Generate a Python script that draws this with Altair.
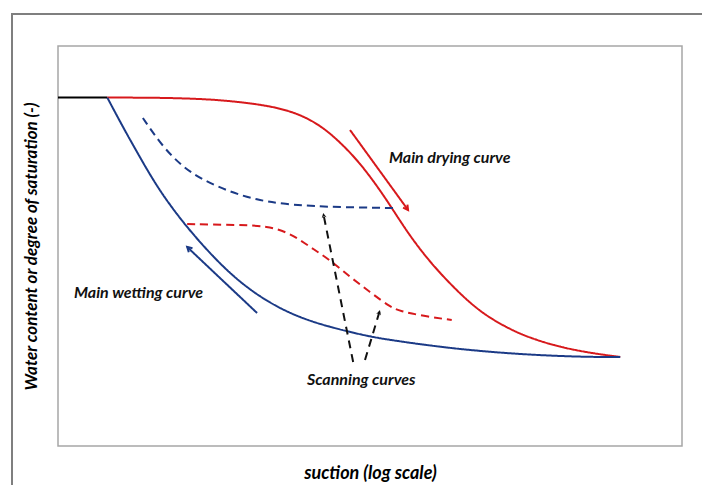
import math
import altair as alt
import pandas as pd

# x: suction on a log axis (arbitrary units 0-10), y: saturation (0-1)
sat_x = [0.0, 0.79]
sat_y = [0.871, 0.871]

dry_x = [0.79, 1.59, 2.39, 2.92, 3.40, 3.83, 4.20, 4.52, 4.84, 5.16, 5.37, 5.64,
         5.96, 6.33, 6.76, 7.20, 7.56, 8.09, 8.64, 9.01]
dry_y = [0.871, 0.871, 0.8675, 0.86, 0.85, 0.8325, 0.8025, 0.76, 0.7075, 0.64, 0.59,
         0.525, 0.46, 0.3975, 0.335, 0.295, 0.27, 0.245, 0.23, 0.2225]

wet_x = [0.79, 1.04, 1.31, 1.59, 1.91, 2.28, 2.80, 3.35, 3.88, 4.41, 4.95, 5.32,
         6.23, 7.29, 8.37, 9.01]
wet_y = [0.871, 0.7975, 0.7225, 0.6475, 0.5775, 0.5075, 0.4225, 0.36, 0.32, 0.295,
         0.275, 0.265, 0.245, 0.23, 0.2225, 0.2225]

scan_wet_x = [1.36, 1.68, 2.00, 2.32, 2.76, 3.19, 3.61, 4.25, 5.37]
scan_wet_y = [0.82, 0.7475, 0.6975, 0.665, 0.635, 0.615, 0.605, 0.5975, 0.595]

scan_dry_x = [2.07, 2.92, 3.35, 3.72, 4.04, 4.36, 4.68, 5.00, 5.32, 5.48, 5.85, 6.31]
scan_dry_y = [0.555, 0.5525, 0.55, 0.5325, 0.4975, 0.465, 0.4225, 0.385, 0.3475,
              0.3375, 0.325, 0.315]

curve_names = ["saturated", "drying", "wetting", "scan_wet", "scan_dry"]
curve_colors = ["#000000", "#D7191C", "#1B3A86", "#1B3A86", "#D7191C"]
curve_dash = [[1, 0], [1, 0], [1, 0], [8, 5], [8, 5]]

# arrows: start -> end (head at end)
arrow_names = ["dry_arrow", "wet_arrow", "scan_a", "scan_b"]
arrow_x0 = [4.68, 3.19, 4.73, 4.92]
arrow_y0 = [0.79, 0.3325, 0.21, 0.215]
arrow_x1 = [5.61, 2.07, 4.25, 5.16]
arrow_y1 = [0.59, 0.4975, 0.5825, 0.34]
arrow_colors = ["#D7191C", "#1B3A86", "#111111", "#111111"]
arrow_dash = [[1, 0], [1, 0], [8, 6], [8, 6]]

label_text = ["Main drying curve", "Main wetting curve", "Scanning curves"]
label_x = [5.305, 0.256, 3.99]
label_y = [0.72, 0.3825, 0.165]

W, H = 624, 400
PAD = {"left": 50, "top": 38, "right": 20, "bottom": 39}
XDOM, YDOM = [0, 10], [0, 1]

all_names = curve_names + arrow_names
color_scale = alt.Scale(domain=all_names, range=curve_colors + arrow_colors)
dash_scale = alt.Scale(domain=all_names, range=curve_dash + arrow_dash)

rows = []
for name, xs, ys in zip(curve_names,
                        [sat_x, dry_x, wet_x, scan_wet_x, scan_dry_x],
                        [sat_y, dry_y, wet_y, scan_wet_y, scan_dry_y]):
    for i, (a, b) in enumerate(zip(xs, ys)):
        rows.append({"x": a, "y": b, "k": name, "o": i})
curves = pd.DataFrame(rows)

arows, hrows = [], []
for n, a0, b0, a1, b1 in zip(arrow_names, arrow_x0, arrow_y0, arrow_x1, arrow_y1):
    arows.append({"x": a0, "y": b0, "k": n, "o": 0})
    arows.append({"x": a1, "y": b1, "k": n, "o": 1})
    dx = (a1 - a0) * W / (XDOM[1] - XDOM[0])
    dy = -(b1 - b0) * H / (YDOM[1] - YDOM[0])
    ang = math.degrees(math.atan2(dx, -dy)) % 360
    hrows.append({"x": a1, "y": b1, "k": n, "angle": ang})
arrows = pd.DataFrame(arows)
heads = pd.DataFrame(hrows)
labels = pd.DataFrame({"x": label_x, "y": label_y, "t": label_text})

FONT = "Lato"
xenc = alt.X("x:Q", scale=alt.Scale(domain=XDOM, nice=False, zero=False),
             axis=alt.Axis(title="suction (log scale)", labels=False, ticks=False,
                           domain=False, grid=False, titleFont=FONT, titleFontSize=18,
                           titleFontStyle="italic", titleFontWeight="bold",
                           titleColor="#000000", titlePadding=18))
yenc = alt.Y("y:Q", scale=alt.Scale(domain=YDOM, nice=False, zero=False),
             axis=alt.Axis(title="Water content or degree of saturation (-)", labels=False,
                           ticks=False, domain=False, grid=False, titleFont=FONT,
                           titleFontSize=17, titleFontStyle="italic",
                           titleFontWeight="bold", titleColor="#000000", titlePadding=18))

col = alt.Color("k:N", scale=color_scale, legend=None)
dash = alt.StrokeDash("k:N", scale=dash_scale, legend=None)

curve_layer = alt.Chart(curves).mark_line(interpolate="basis", strokeWidth=2).encode(
    x=xenc, y=yenc, color=col, strokeDash=dash, order="o:Q",
)

arrow_layer = alt.Chart(arrows).mark_line(strokeWidth=2).encode(
    x="x:Q", y="y:Q", color=col, strokeDash=dash, order="o:Q",
)

open_heads = alt.Chart(heads).transform_filter(
    alt.FieldOneOfPredicate(field="k", oneOf=["dry_arrow", "wet_arrow"])
).mark_point(shape="M-0.9,1.6L0,0L0.9,1.6", filled=False, size=36, strokeWidth=2, opacity=1).encode(
    x="x:Q", y="y:Q", angle=alt.Angle("angle:Q", scale=None), color=col,
)

solid_heads = alt.Chart(heads).transform_filter(
    alt.FieldOneOfPredicate(field="k", oneOf=["scan_a", "scan_b"])
).mark_point(shape="M-0.9,1.8L0,0L0.9,1.8L0,1.2Z", filled=True, size=30, opacity=1).encode(
    x="x:Q", y="y:Q", angle=alt.Angle("angle:Q", scale=None), color=col,
)

text_layer = alt.Chart(labels).mark_text(
    align="left", baseline="middle", font=FONT, fontSize=16, fontStyle="italic",
    fontWeight="bold", color="#111111"
).encode(x="x:Q", y="y:Q", text="t:N")

# outer figure box; its right and bottom edges lie beyond the picture
one = pd.DataFrame({"a": [0]})
frame = alt.Chart(one).mark_rect(
    fillOpacity=0, stroke="#7F7F7F", strokeWidth=2
).encode(
    x=alt.value(-46), x2=alt.value(W + PAD["right"] + 30),
    y=alt.value(-32), y2=alt.value(H + PAD["bottom"] + 30),
)

chart = alt.layer(
    frame, curve_layer, arrow_layer, open_heads, solid_heads, text_layer
).properties(
    width=W, height=H,
    padding=PAD,
    autosize=alt.AutoSizeParams(type="none"),
    background="#FFFFFF",
).configure_view(stroke="#A6A6A6", strokeWidth=1.5)

chart.save("out.html", embed_options={"renderer": "svg", "actions": False})
